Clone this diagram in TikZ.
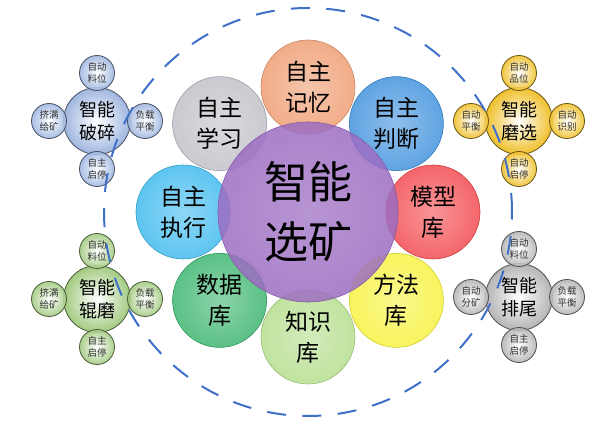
\documentclass[tikz,border=0pt]{standalone}
\usepackage{fontspec}
\setmainfont{Noto Sans CJK SC}
\definecolor{cMemo}{HTML}{EE9A6E}
\definecolor{cJudge}{HTML}{3C8FDC}
\definecolor{cModel}{HTML}{F2454A}
\definecolor{cMethod}{HTML}{F7F23A}
\definecolor{cKnow}{HTML}{B3DD8A}
\definecolor{cData}{HTML}{37B36A}
\definecolor{cExec}{HTML}{3BB8EE}
\definecolor{cLearn}{HTML}{BEBEC6}
\definecolor{cCore}{HTML}{9C6CC2}
\definecolor{cCrush}{HTML}{9FB6E0}
\definecolor{cSelect}{HTML}{F0C02C}
\definecolor{cRoll}{HTML}{A2CA80}
\definecolor{cTail}{HTML}{B4B4B4}
\definecolor{cDash}{HTML}{3F6FC8}

\begin{document}
\begin{tikzpicture}[
  x=1pt, y=1pt,
  mcir/.style={circle, minimum size=94pt, inner sep=0pt, align=center,
              shading=radial, inner color=#1!70!white, outer color=#1,
              draw=#1!85!black, line width=0.6pt, fill opacity=0.82,
              text opacity=1, font=\fontsize{23}{31}\selectfont},
  ccir/.style={circle, minimum size=180pt, inner sep=0pt, align=center,
              shading=radial, inner color=cCore!85!white, outer color=cCore,
              draw=cCore!85!black, line width=0.6pt, fill opacity=0.85,
              text opacity=1, font=\fontsize{44}{60}\selectfont},
  hcir/.style={circle, minimum size=67pt, inner sep=0pt, align=center,
              shading=radial, inner color=white, outer color=#1,
              draw=#1!45!black, line width=0.8pt,
              font=\fontsize{18}{23}\selectfont},
  scir/.style={circle, minimum size=35pt, inner sep=0pt, align=center,
              shading=radial, inner color=white, outer color=#1,
              draw=#1!45!black, line width=0.8pt, fill opacity=0.9,
              text opacity=1, text=black!80, font=\fontsize{9.5}{11.5}\selectfont},
  dsh/.style={draw=cDash, line width=2pt, dash pattern=on 19pt off 16.4pt}
]
\useasboundingbox (0,0) rectangle (615,422);
\coordinate (mid) at (308,210);

% eight satellites round the core
\node[mcir=cMemo]   (memo)   at ([shift={(90:125)}]mid)  {自主\\记忆};
\node[mcir=cJudge]  (judge)  at ([shift={(45:125)}]mid)  {自主\\判断};
\node[mcir=cModel]  (model)  at ([shift={(0:125)}]mid)   {模型\\库};
\node[mcir=cMethod] (method) at ([shift={(-45:125)}]mid) {方法\\库};
\node[mcir=cKnow]   (know)   at ([shift={(-90:125)}]mid) {知识\\库};
\node[mcir=cData]   (data)   at ([shift={(-135:125)}]mid){数据\\库};
\node[mcir=cExec]   (exec)   at ([shift={(180:125)}]mid) {自主\\执行};
\node[mcir=cLearn]  (learn)  at ([shift={(135:125)}]mid) {自主\\学习};
\node[ccir] (core) at (mid) {智能\\选矿};

% crushing
\node[hcir=cCrush] (crush) at (97,301) {智能\\破碎};
\node[scir=cCrush] (crushT) at ([shift={(90:48)}]crush)  {自动\\料位};
\node[scir=cCrush] (crushL) at ([shift={(180:48)}]crush) {挤满\\给矿};
\node[scir=cCrush] (crushR) at ([shift={(0:48)}]crush)   {负载\\平衡};
\node[scir=cCrush] (crushB) at ([shift={(-90:48)}]crush) {自主\\启停};

% grinding and separation
\node[hcir=cSelect] (sel) at (519,301) {智能\\磨选};
\node[scir=cSelect] (selT) at ([shift={(90:48)}]sel)  {自动\\品位};
\node[scir=cSelect] (selL) at ([shift={(180:48)}]sel) {自动\\平衡};
\node[scir=cSelect] (selR) at ([shift={(0:48)}]sel)   {自动\\识别};
\node[scir=cSelect] (selB) at ([shift={(-90:48)}]sel) {自动\\启停};

% roller milling
\node[hcir=cRoll] (roll) at (97,123) {智能\\辊磨};
\node[scir=cRoll] (rollT) at ([shift={(90:48)}]roll)  {自动\\料位};
\node[scir=cRoll] (rollL) at ([shift={(180:48)}]roll) {挤满\\给矿};
\node[scir=cRoll] (rollR) at ([shift={(0:48)}]roll)   {负载\\平衡};
\node[scir=cRoll] (rollB) at ([shift={(-90:48)}]roll) {自主\\启停};

% tailings
\node[hcir=cTail] (tail) at (519,125) {智能\\排尾};
\node[scir=cTail] (tailT) at ([shift={(90:48)}]tail)  {自动\\料位};
\node[scir=cTail] (tailL) at ([shift={(180:48)}]tail) {自动\\分矿};
\node[scir=cTail] (tailR) at ([shift={(0:48)}]tail)   {负载\\平衡};
\node[scir=cTail] (tailB) at ([shift={(-90:48)}]tail) {自主\\启停};

\draw[dsh] (mid) circle[radius=204];
\end{tikzpicture}
\end{document}
